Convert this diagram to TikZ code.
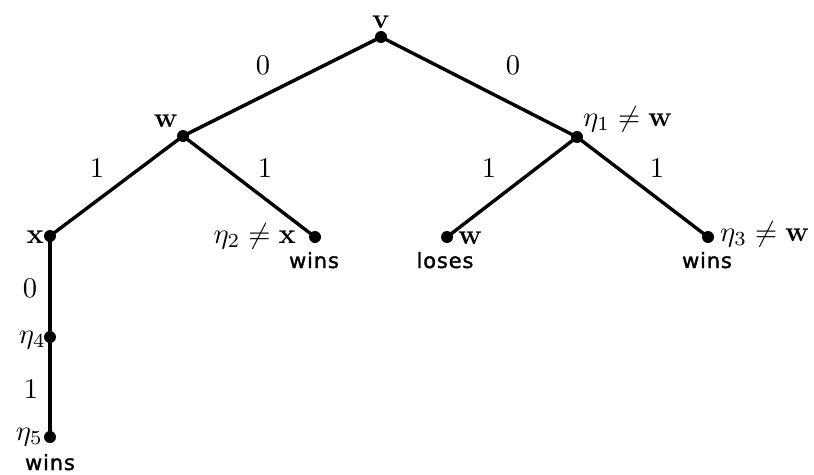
\documentclass[tikz,border=0pt]{standalone}
\usepackage{amsmath}
\usepackage{graphicx}
\usepackage[no-math]{fontspec}
\newfontfamily\winsfont[LetterSpace=4,FakeBold=1.5]{DejaVu Sans}
\newcommand\mlab[1]{\scalebox{2.85}{$#1$}}
\tikzset{
  dot/.style={circle,fill=black,inner sep=0pt,minimum size=12pt},
  edge/.style={line width=3.4pt},
  lab/.style={inner sep=0pt},
  sflab/.style={inner sep=0pt,anchor=base,font=\winsfont\fontsize{21}{25}\selectfont}
}
\begin{document}
\begin{tikzpicture}[x=1pt,y=-1pt]
\useasboundingbox (0,0) rectangle (814,474);
% vertices
\node[dot] (v) at (381,37) {};
\node[dot] (w) at (183,136) {};
\node[dot] (e1) at (577,137) {};
\node[dot] (x) at (50,236) {};
\node[dot] (e2) at (315,237) {};
\node[dot] (wl) at (447,237) {};
\node[dot] (e3) at (708,237) {};
\node[dot] (e4) at (50,337) {};
\node[dot] (e5) at (50,437) {};
% edges
\draw[edge] (v.center) -- (w.center);
\draw[edge] (v.center) -- (e1.center);
\draw[edge] (w.center) -- (x.center);
\draw[edge] (w.center) -- (e2.center);
\draw[edge] (e1.center) -- (wl.center);
\draw[edge] (e1.center) -- (e3.center);
\draw[edge] (x.center) -- (e4.center);
\draw[edge] (e4.center) -- (e5.center);
% vertex labels
\node[lab,anchor=base] (lv) at (381,28) {\mlab{\mathbf{v}}};
\node[lab,anchor=base] (lw) at (166,127) {\mlab{\mathbf{w}}};
\node[lab,anchor=base west] (le1) at (583,126) {\mlab{\eta_1 \neq \mathbf{w}}};
\node[lab,anchor=base east] (lx) at (44,243) {\mlab{\mathbf{x}}};
\node[lab,anchor=base east] (le2) at (296,243) {\mlab{\eta_2 \neq \mathbf{x}}};
\node[sflab] (we2) at (314,268) {wins};
\node[lab,anchor=base west] (lwl) at (458,244) {\mlab{\mathbf{w}}};
\node[sflab] (lose) at (445,268) {loses};
\node[lab,anchor=base west] (le3) at (720,241) {\mlab{\eta_3 \neq \mathbf{w}}};
\node[sflab] (we3) at (707,268) {wins};
\node[lab,anchor=base east] (le4) at (46,343) {\mlab{\eta_4}};
\node[lab,anchor=base east] (le5) at (43,440) {\mlab{\eta_5}};
\node[sflab] (we5) at (50,470) {wins};
% edge labels
\node[lab,anchor=base] (a1) at (263,74) {\mlab{0}};
\node[lab,anchor=base] (a2) at (513,74) {\mlab{0}};
\node[lab,anchor=base] (b1) at (97,177) {\mlab{1}};
\node[lab,anchor=base] (b2) at (265,177) {\mlab{1}};
\node[lab,anchor=base] (b3) at (489,177) {\mlab{1}};
\node[lab,anchor=base] (b4) at (657,177) {\mlab{1}};
\node[lab,anchor=base] (c1) at (30,297) {\mlab{0}};
\node[lab,anchor=base] (c2) at (31,398) {\mlab{1}};
\end{tikzpicture}
\end{document}
